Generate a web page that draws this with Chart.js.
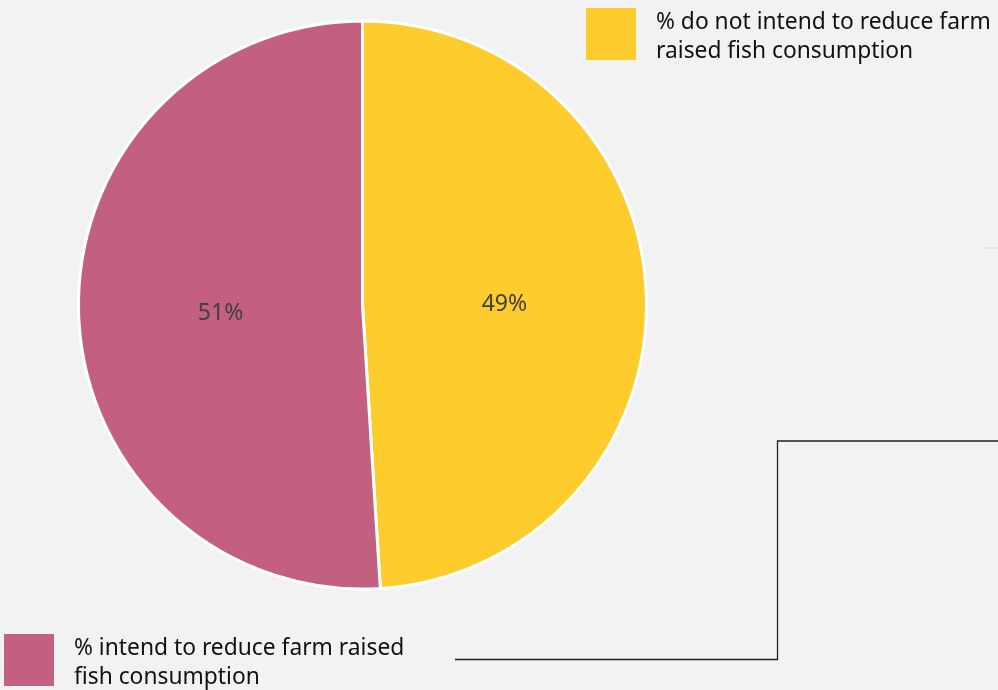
<!DOCTYPE html>
<html>
<head>
<meta charset="utf-8">
<script src="https://cdn.jsdelivr.net/npm/chart.js@4"></script>
<style>
  html, body { margin: 0; padding: 0; background: #f2f2f2; }
  #wrap { position: relative; width: 998px; height: 690px; }
</style>
</head>
<body>
<div id="wrap"><canvas id="myChart" width="998" height="690"></canvas></div>
<script>
const categories = ['% do not intend to reduce farm raised fish consumption', '% intend to reduce farm raised fish consumption'];
const values = [49, 51];
const colors = ['#fecc2c', '#c3607f'];
const legendLines = [
    ['% do not intend to reduce farm', 'raised fish consumption'],
    ['% intend to reduce farm raised', 'fish consumption']
];

// labels inside slices + legend + the connector lines
const extras = {
    id: 'extras',
    afterDraw(chart) {
        const ctx = chart.ctx;
        const meta = chart.getDatasetMeta(0);
        ctx.save();
        ctx.font = '23px "Noto Sans"';
        ctx.fillStyle = '#404040';
        ctx.textAlign = 'center';
        ctx.textBaseline = 'middle';
        meta.data.forEach((arc, i) => {
            const mid = (arc.startAngle + arc.endAngle) / 2;
            const r = arc.outerRadius * 0.5;
            ctx.fillText(values[i] + '%', arc.x + Math.cos(mid) * r, arc.y + Math.sin(mid) * r + 4);
        });

        // legend
        const spots = [{x: 586, y: 8}, {x: 4, y: 634}];
        ctx.textAlign = 'left';
        ctx.textBaseline = 'alphabetic';
        ctx.font = '22.8px "Noto Sans"';
        spots.forEach((p, i) => {
            ctx.fillStyle = colors[i];
            ctx.fillRect(p.x, p.y, 50, 52);
            ctx.fillStyle = '#111';
            legendLines[i].forEach((t, j) => {
                ctx.fillText(t, p.x + 70, p.y + 21 + j * 29);
            });
        });

        // lines
        ctx.strokeStyle = '#222';
        ctx.lineWidth = 1.3;
        ctx.beginPath();
        ctx.moveTo(455, 659.5);
        ctx.lineTo(777.5, 659.5);
        ctx.lineTo(777.5, 441);
        ctx.lineTo(998, 441);
        ctx.stroke();
        ctx.strokeStyle = '#d9d9d9';
        ctx.beginPath();
        ctx.moveTo(982, 248);
        ctx.lineTo(998, 248);
        ctx.stroke();
        ctx.restore();
    }
};

const ctx = document.getElementById('myChart').getContext('2d');
const myChart = new Chart(ctx, {
    type: 'pie',
    data: {
        labels: categories,
        datasets: [{
            data: values,
            backgroundColor: colors,
            borderColor: '#ffffff',
            borderWidth: 3
        }]
    },
    options: {
        responsive: false,
        animation: false,
        layout: {
            padding: { left: 77, right: 350, top: 19, bottom: 99 }
        },
        plugins: {
            legend: { display: false },
            tooltip: { enabled: false }
        }
    },
    plugins: [extras]
});
</script>
</body>
</html>
